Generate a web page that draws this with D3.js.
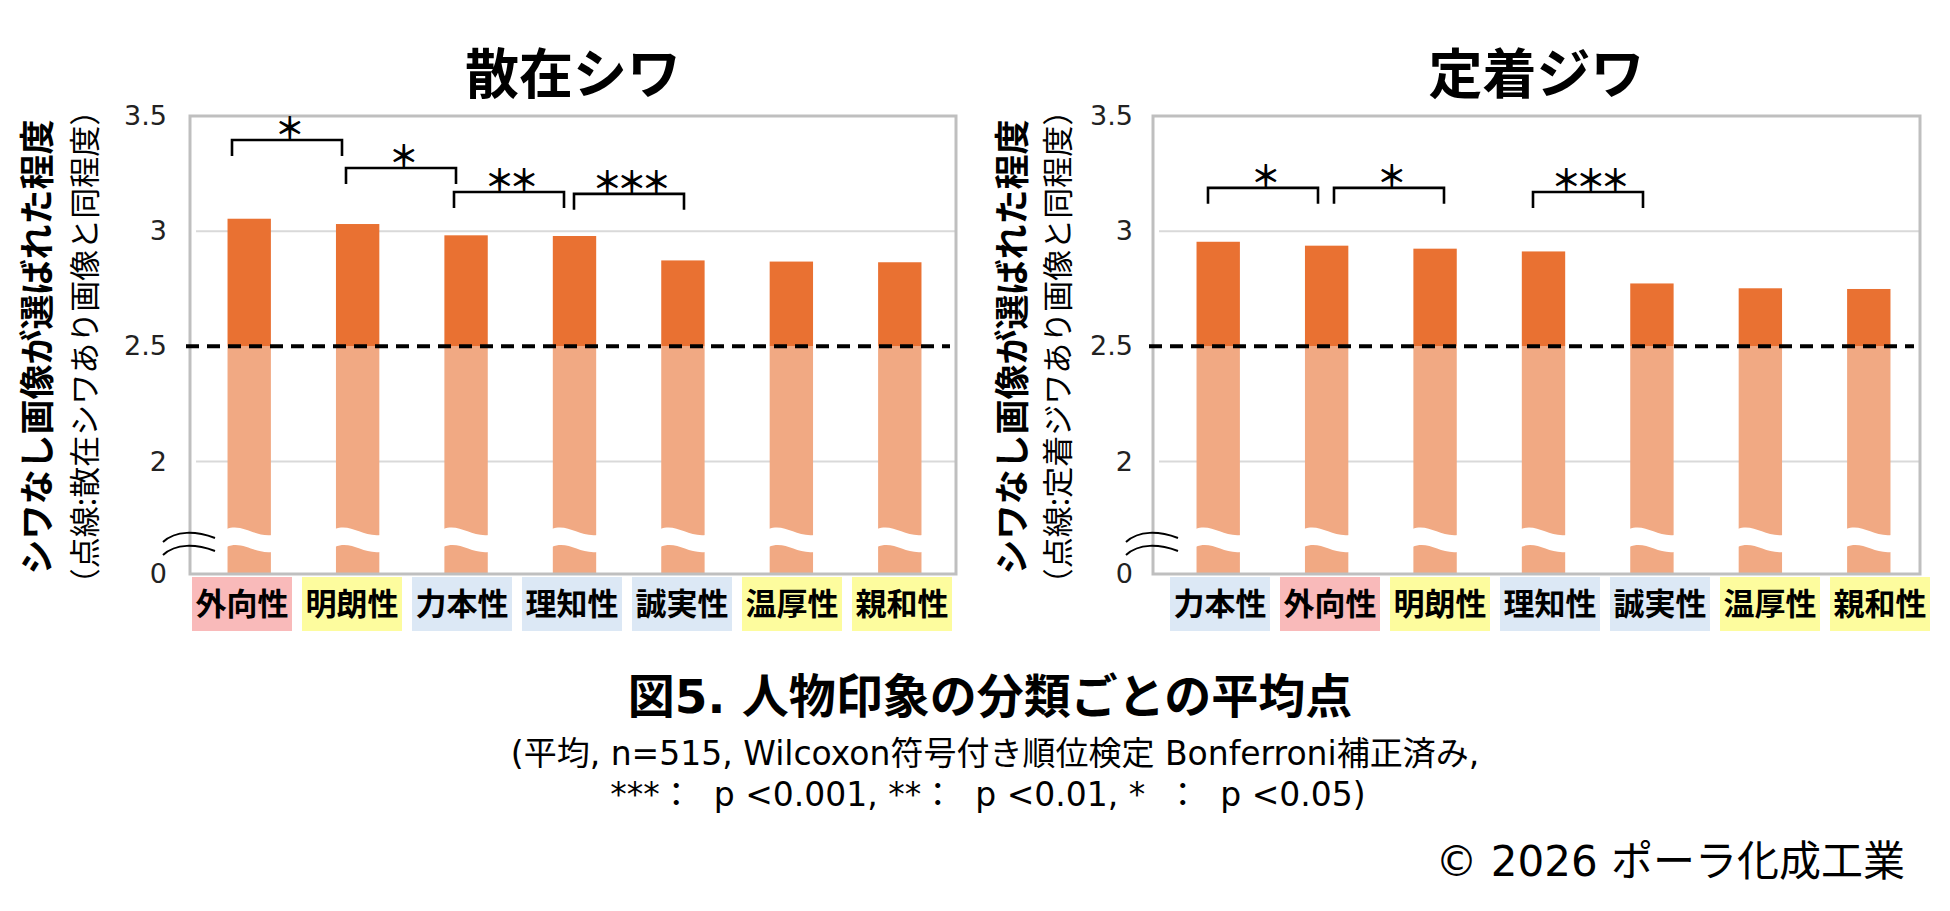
<!DOCTYPE html>
<html>
<head>
<meta charset="utf-8">
<script src="https://d3js.org/d3.v7.min.js"></script>
<style>
  body { margin: 0; background: #fff; }
  svg text { font-family: "DejaVu Sans", "Noto Sans CJK JP", sans-serif; fill: #000; white-space: pre; }
  .jp { font-family: "Noto Sans CJK JP", sans-serif; }
  .chart-title { font-size: 54px; font-weight: bold; text-anchor: middle; }
  .y-title { font-size: 35px; font-weight: bold; text-anchor: middle; }
  .y-sub { font-size: 31px; text-anchor: middle; }
  .y-axis text { font-family: "DejaVu Sans", sans-serif; font-size: 27px; fill: #222; }
  .x-axis text { font-family: "Noto Sans CJK JP", sans-serif; font-size: 31px; font-weight: bold; fill: #000; }
  .star { font-family: "Noto Sans CJK JP", sans-serif; font-size: 30px; font-weight: bold; letter-spacing: -5.5px; }
</style>
</head>
<body>
<div id="chart"></div>
<script>
// ---- data ----
var titles = ["散在シワ", "定着ジワ"];
var yTitle = "シワなし画像が選ばれた程度";
var ySubs = ["（点線:散在シワあり画像と同程度）", "（点線:定着ジワあり画像と同程度）"];

var catsScatter = ["外向性", "明朗性", "力本性", "理知性", "誠実性", "温厚性", "親和性"];
var valsScatter = [3.054, 3.031, 2.982, 2.979, 2.873, 2.868, 2.865];

var catsFixed = ["力本性", "外向性", "明朗性", "理知性", "誠実性", "温厚性", "親和性"];
var valsFixed = [2.954, 2.937, 2.924, 2.912, 2.773, 2.752, 2.749];

// impression group of each category (label background)
var groupOf = { "外向性": "pink", "明朗性": "yellow", "温厚性": "yellow", "親和性": "yellow",
                "力本性": "blue", "理知性": "blue", "誠実性": "blue" };

var yTicks = [0, 2, 2.5, 3, 3.5];
var refValue = 2.5;

// significance brackets: pair of category indexes, stars, height in data units
var sigScatter = [
  { a: 0, b: 1, stars: 1, level: 3.396 },
  { a: 1, b: 2, stars: 1, level: 3.274 },
  { a: 2, b: 3, stars: 2, level: 3.170 },
  { a: 3, b: 4, stars: 3, level: 3.162 }
];
var sigFixed = [
  { a: 0, b: 1, stars: 1, level: 3.188 },
  { a: 1, b: 2, stars: 1, level: 3.188 },
  { a: 3, b: 4, stars: 3, level: 3.170 }
];

var caption = "図5. 人物印象の分類ごとの平均点";
var note1 = "(平均, n=515, Wilcoxon符号付き順位検定 Bonferroni補正済み,";
var note2 = "***：  p <0.001, **：  p <0.01, *  ：  p <0.05)";
var copyright = "© 2026 ポーラ化成工業";

// ---- layout / style ----
var W = 1950, H = 911;
var colors = { dark: "#E97132", light: "#F1A983",
               pink: "#F9BABA", yellow: "#FDFC9E", blue: "#DCE8F5" };

var charts = [
  { title: titles[0], sub: ySubs[0], cats: catsScatter, vals: valsScatter, sig: sigScatter,
    x0: 190, x1: 956, barRange: [195, 954], labelRange: [192, 952],
    titleX: [34, 82], tickPad: 23, nudge: [-10, -6, -8, 2] },
  { title: titles[1], sub: ySubs[1], cats: catsFixed, vals: valsFixed, sig: sigFixed,
    x0: 1153, x1: 1920, barRange: [1164, 1923], labelRange: [1170, 1930],
    titleX: [1009, 1055], tickPad: 20, nudge: [-12, 4, -17] }
];

// broken axis: 0 sits just below the 2 line
var y = d3.scaleLinear().domain([0, 2, 3.5]).range([574, 461.5, 116]);
var breakTop = 529, breakBottom = 547;

var svg = d3.select("#chart").append("svg")
  .attr("width", W).attr("height", H);

charts.forEach(function(c) {
  var g = svg.append("g");

  var x = d3.scaleBand().domain(c.cats).range(c.barRange)
    .paddingInner(0.6).paddingOuter(0.3);
  var xl = d3.scaleBand().domain(c.cats).range(c.labelRange)
    .paddingInner(0.0909).paddingOuter(0);

  // gridlines
  g.selectAll(".grid").data([2, 3]).enter().append("line")
    .attr("x1", c.x0 + 6).attr("x2", c.x1 - 1)
    .attr("y1", function(d) { return y(d); }).attr("y2", function(d) { return y(d); })
    .attr("stroke", "#D9D9D9").attr("stroke-width", 2);

  // bars: light part up to the reference, dark part above it
  var rows = c.cats.map(function(k, i) { return { cat: k, value: c.vals[i] }; });
  g.selectAll(".low").data(rows).enter().append("rect")
    .attr("x", function(d) { return x(d.cat); })
    .attr("width", x.bandwidth())
    .attr("y", y(refValue))
    .attr("height", y(0) - y(refValue))
    .attr("fill", colors.light);
  g.selectAll(".high").data(rows).enter().append("rect")
    .attr("x", function(d) { return x(d.cat); })
    .attr("width", x.bandwidth())
    .attr("y", function(d) { return y(d.value); })
    .attr("height", function(d) { return y(refValue) - y(d.value); })
    .attr("fill", colors.dark);

  // wavy white break through each bar
  g.selectAll(".brk").data(rows).enter().append("path")
    .attr("fill", "#fff")
    .attr("d", function(d) {
      var a = x(d.cat) - 1, w = x.bandwidth() + 2, b = a + w;
      return "M" + a + "," + breakTop +
        " C" + (a + w * 0.35) + "," + (breakTop - 6) + " " + (a + w * 0.6) + "," + (breakTop + 8) + " " + b + "," + (breakTop + 6) +
        " L" + b + "," + (breakBottom + 5) +
        " C" + (a + w * 0.6) + "," + (breakBottom + 7) + " " + (a + w * 0.35) + "," + (breakBottom - 7) + " " + a + "," + breakBottom + " Z";
    });

  // plot border
  g.append("rect")
    .attr("x", c.x0).attr("y", y(3.5))
    .attr("width", c.x1 - c.x0).attr("height", y(0) - y(3.5))
    .attr("fill", "none").attr("stroke", "#BFBFBF").attr("stroke-width", 3);

  // reference dashed line
  g.append("line")
    .attr("x1", c.x0 - 4).attr("x2", c.x1 - 6)
    .attr("y1", y(refValue)).attr("y2", y(refValue))
    .attr("stroke", "#000").attr("stroke-width", 4)
    .attr("stroke-dasharray", "13,8");

  // axis break marks
  [536, 549].forEach(function(yy) {
    g.append("path")
      .attr("fill", "none").attr("stroke", "#000").attr("stroke-width", 2)
      .attr("d", "M" + (c.x0 - 27) + "," + (yy + 6) +
        " C" + (c.x0 - 14) + "," + (yy - 6) + " " + (c.x0 + 6) + "," + (yy - 5) + " " + (c.x0 + 25) + "," + (yy + 2));
  });

  // y axis
  var ya = g.append("g").attr("class", "y-axis")
    .attr("transform", "translate(" + c.x0 + ",0)")
    .call(d3.axisLeft(y).tickValues(yTicks).tickSize(0).tickPadding(c.tickPad).tickFormat(d3.format("")));
  ya.select(".domain").remove();

  // category labels with group backgrounds
  var xa = g.append("g").attr("class", "x-axis")
    .attr("transform", "translate(0,577)")
    .call(d3.axisBottom(xl).tickSize(0).tickPadding(0));
  xa.select(".domain").remove();
  xa.selectAll(".tick").insert("rect", "text")
    .attr("x", -xl.bandwidth() / 2).attr("y", 0)
    .attr("width", xl.bandwidth()).attr("height", 54)
    .attr("fill", function(d) { return colors[groupOf[d]]; });
  xa.selectAll(".tick text").attr("y", 27).attr("dy", "0.35em");

  // significance brackets
  c.sig.forEach(function(s, i) {
    var xa1 = xl(c.cats[s.a]) + xl.bandwidth() / 2 + c.nudge[i];
    var xb1 = xl(c.cats[s.b]) + xl.bandwidth() / 2 + c.nudge[i];
    var yt = y(s.level);
    g.append("path")
      .attr("fill", "none").attr("stroke", "#000").attr("stroke-width", 2.6)
      .attr("d", "M" + xa1 + "," + (yt + 16) + " V" + yt + " H" + xb1 + " V" + (yt + 16));
    // one text per label; each star advances 24.5px
    var mid = (xa1 + xb1) / 2;
    g.append("text").attr("class", "star")
      .attr("x", mid - (s.stars * 24.5) / 2)
      .attr("y", yt - 14)
      .attr("dominant-baseline", "central")
      .text(d3.range(s.stars).map(function() { return "＊"; }).join(""));
  });

  // titles
  g.append("text").attr("class", "chart-title jp")
    .attr("x", (c.x0 + c.x1) / 2).attr("y", 94).text(c.title);
  g.append("text").attr("class", "y-title jp")
    .attr("transform", "translate(" + c.titleX[0] + ",347) rotate(-90)")
    .attr("dominant-baseline", "central").text(yTitle);
  g.append("text").attr("class", "y-sub jp")
    .attr("transform", "translate(" + c.titleX[1] + ",347) rotate(-90)")
    .attr("dominant-baseline", "central").text(c.sub);
});

// caption block
svg.append("text").attr("x", 990).attr("y", 713)
  .attr("text-anchor", "middle").style("font-size", "47px").style("font-weight", "bold")
  .text(caption);
svg.append("text").attr("x", 995).attr("y", 765)
  .attr("text-anchor", "middle").style("font-size", "33px")
  .text(note1);
svg.append("text").attr("x", 988).attr("y", 806)
  .attr("text-anchor", "middle").style("font-size", "33px")
  .text(note2);
svg.append("text").attr("x", 1905).attr("y", 876)
  .attr("text-anchor", "end").style("font-size", "42px")
  .text(copyright);
</script>
</body>
</html>
